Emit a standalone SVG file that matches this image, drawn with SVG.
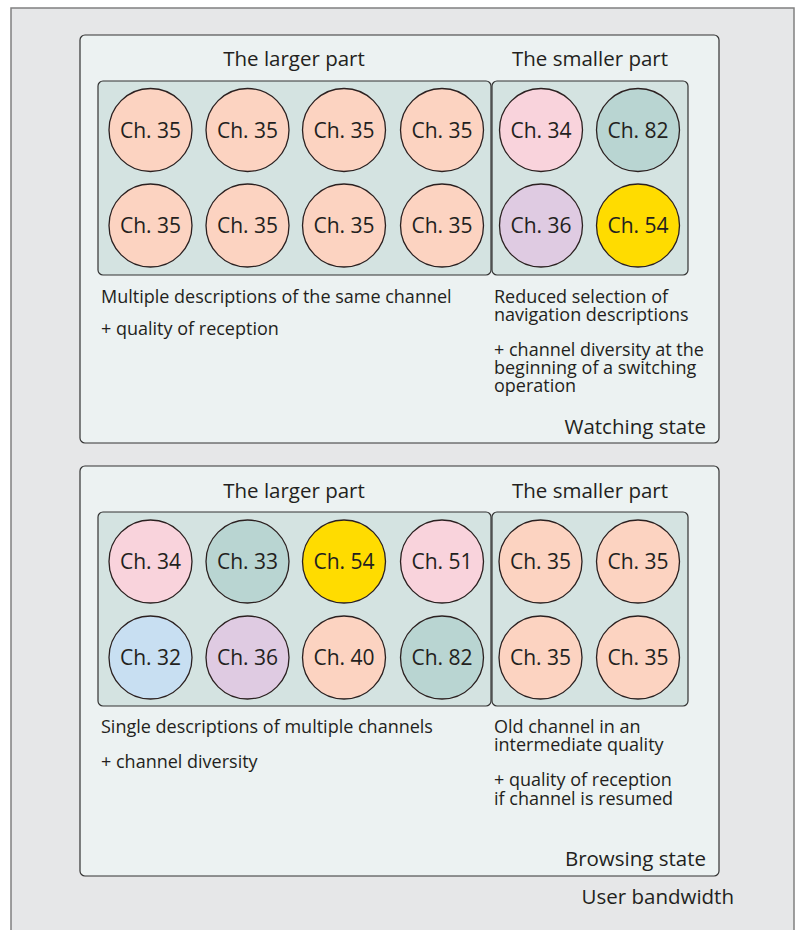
<svg xmlns="http://www.w3.org/2000/svg" width="797" height="930" viewBox="0 0 797 930">
<style>
text{font-family:"Open Sans","Liberation Sans",sans-serif;fill:#231f20}
.t{font-size:20.5px}
.d{font-size:18px}
.c{font-size:21px;text-anchor:middle}
.mid{text-anchor:middle}
.end{text-anchor:end}
.panel{fill:#ecf2f2;stroke:#333;stroke-width:1.2}
.box{fill:#d4e3e1;stroke:#333;stroke-width:1.2}
circle{stroke:#2b2020;stroke-width:1.3}
.or{fill:#fcd3c1}.pk{fill:#f9d3dc}.tl{fill:#b9d5d2}.pu{fill:#dfcbe2}.ye{fill:#ffdc00}.bl{fill:#c8dff2}
</style>
<rect id="frame" x="11" y="8" width="783" height="940" fill="#e6e7e8" stroke="#808080" stroke-width="1.5"/>
<g id="connectors"/>

<g id="watching">
<rect class="panel" x="80" y="35" width="639" height="408" rx="5"/>
<text class="t mid" x="294" y="66">The larger part</text>
<text class="t mid" x="590" y="66">The smaller part</text>
<rect class="box" x="98" y="81" width="393" height="194" rx="5"/>
<rect class="box" x="492" y="81" width="196" height="194" rx="5"/>
<g id="w1"><circle class="or" cx="150.5" cy="130" r="41.5"/><text class="c" x="150.5" y="137.5">Ch. 35</text></g>
<g id="w2"><circle class="or" cx="247.5" cy="130" r="41.5"/><text class="c" x="247.5" y="137.5">Ch. 35</text></g>
<g id="w3"><circle class="or" cx="344" cy="130" r="41.5"/><text class="c" x="344" y="137.5">Ch. 35</text></g>
<g id="w4"><circle class="or" cx="442" cy="130" r="41.5"/><text class="c" x="442" y="137.5">Ch. 35</text></g>
<g id="w5"><circle class="or" cx="150.5" cy="225.5" r="41.5"/><text class="c" x="150.5" y="233">Ch. 35</text></g>
<g id="w6"><circle class="or" cx="247.5" cy="225.5" r="41.5"/><text class="c" x="247.5" y="233">Ch. 35</text></g>
<g id="w7"><circle class="or" cx="344" cy="225.5" r="41.5"/><text class="c" x="344" y="233">Ch. 35</text></g>
<g id="w8"><circle class="or" cx="442" cy="225.5" r="41.5"/><text class="c" x="442" y="233">Ch. 35</text></g>
<g id="w9"><circle class="pk" cx="541" cy="130" r="41.5"/><text class="c" x="541" y="137.5">Ch. 34</text></g>
<g id="w10"><circle class="tl" cx="638" cy="130" r="41.5"/><text class="c" x="638" y="137.5">Ch. 82</text></g>
<g id="w11"><circle class="pu" cx="541" cy="225.5" r="41.5"/><text class="c" x="541" y="233">Ch. 36</text></g>
<g id="w12"><circle class="ye" cx="638" cy="225.5" r="41.5"/><text class="c" x="638" y="233">Ch. 54</text></g>
<text class="d" x="101" y="303">Multiple descriptions of the same channel</text>
<text class="d" x="101" y="335">+ quality of reception</text>
<text class="d" x="494" y="303">Reduced selection of</text>
<text class="d" x="494" y="321">navigation descriptions</text>
<text class="d" x="494" y="356">+ channel diversity at the</text>
<text class="d" x="494" y="374">beginning of a switching</text>
<text class="d" x="494" y="392">operation</text>
<text class="t end" x="706" y="434">Watching state</text>
</g>

<g id="browsing">
<rect class="panel" x="80" y="466" width="639" height="410" rx="5"/>
<text class="t mid" x="294" y="498">The larger part</text>
<text class="t mid" x="590" y="498">The smaller part</text>
<rect class="box" x="98" y="512" width="393" height="194" rx="5"/>
<rect class="box" x="492" y="512" width="196" height="194" rx="5"/>
<g id="b1"><circle class="pk" cx="150.5" cy="561.5" r="41.5"/><text class="c" x="150.5" y="569">Ch. 34</text></g>
<g id="b2"><circle class="tl" cx="247.5" cy="561.5" r="41.5"/><text class="c" x="247.5" y="569">Ch. 33</text></g>
<g id="b3"><circle class="ye" cx="344" cy="561.5" r="41.5"/><text class="c" x="344" y="569">Ch. 54</text></g>
<g id="b4"><circle class="pk" cx="442" cy="561.5" r="41.5"/><text class="c" x="442" y="569">Ch. 51</text></g>
<g id="b5"><circle class="bl" cx="150.5" cy="657.5" r="41.5"/><text class="c" x="150.5" y="665">Ch. 32</text></g>
<g id="b6"><circle class="pu" cx="247.5" cy="657.5" r="41.5"/><text class="c" x="247.5" y="665">Ch. 36</text></g>
<g id="b7"><circle class="or" cx="344" cy="657.5" r="41.5"/><text class="c" x="344" y="665">Ch. 40</text></g>
<g id="b8"><circle class="tl" cx="442" cy="657.5" r="41.5"/><text class="c" x="442" y="665">Ch. 82</text></g>
<g id="b9"><circle class="or" cx="540.5" cy="561.5" r="41.5"/><text class="c" x="540.5" y="569">Ch. 35</text></g>
<g id="b10"><circle class="or" cx="638" cy="561.5" r="41.5"/><text class="c" x="638" y="569">Ch. 35</text></g>
<g id="b11"><circle class="or" cx="540.5" cy="657.5" r="41.5"/><text class="c" x="540.5" y="665">Ch. 35</text></g>
<g id="b12"><circle class="or" cx="638" cy="657.5" r="41.5"/><text class="c" x="638" y="665">Ch. 35</text></g>
<text class="d" x="101" y="733">Single descriptions of multiple channels</text>
<text class="d" x="101" y="768">+ channel diversity</text>
<text class="d" x="494" y="733">Old channel in an</text>
<text class="d" x="494" y="751">intermediate quality</text>
<text class="d" x="494" y="786">+ quality of reception</text>
<text class="d" x="494" y="805">if channel is resumed</text>
<text class="t end" x="706" y="866">Browsing state</text>
</g>

<g id="bandwidth-label">
<text class="t end" x="734" y="904">User bandwidth</text>
</g>
</svg>
